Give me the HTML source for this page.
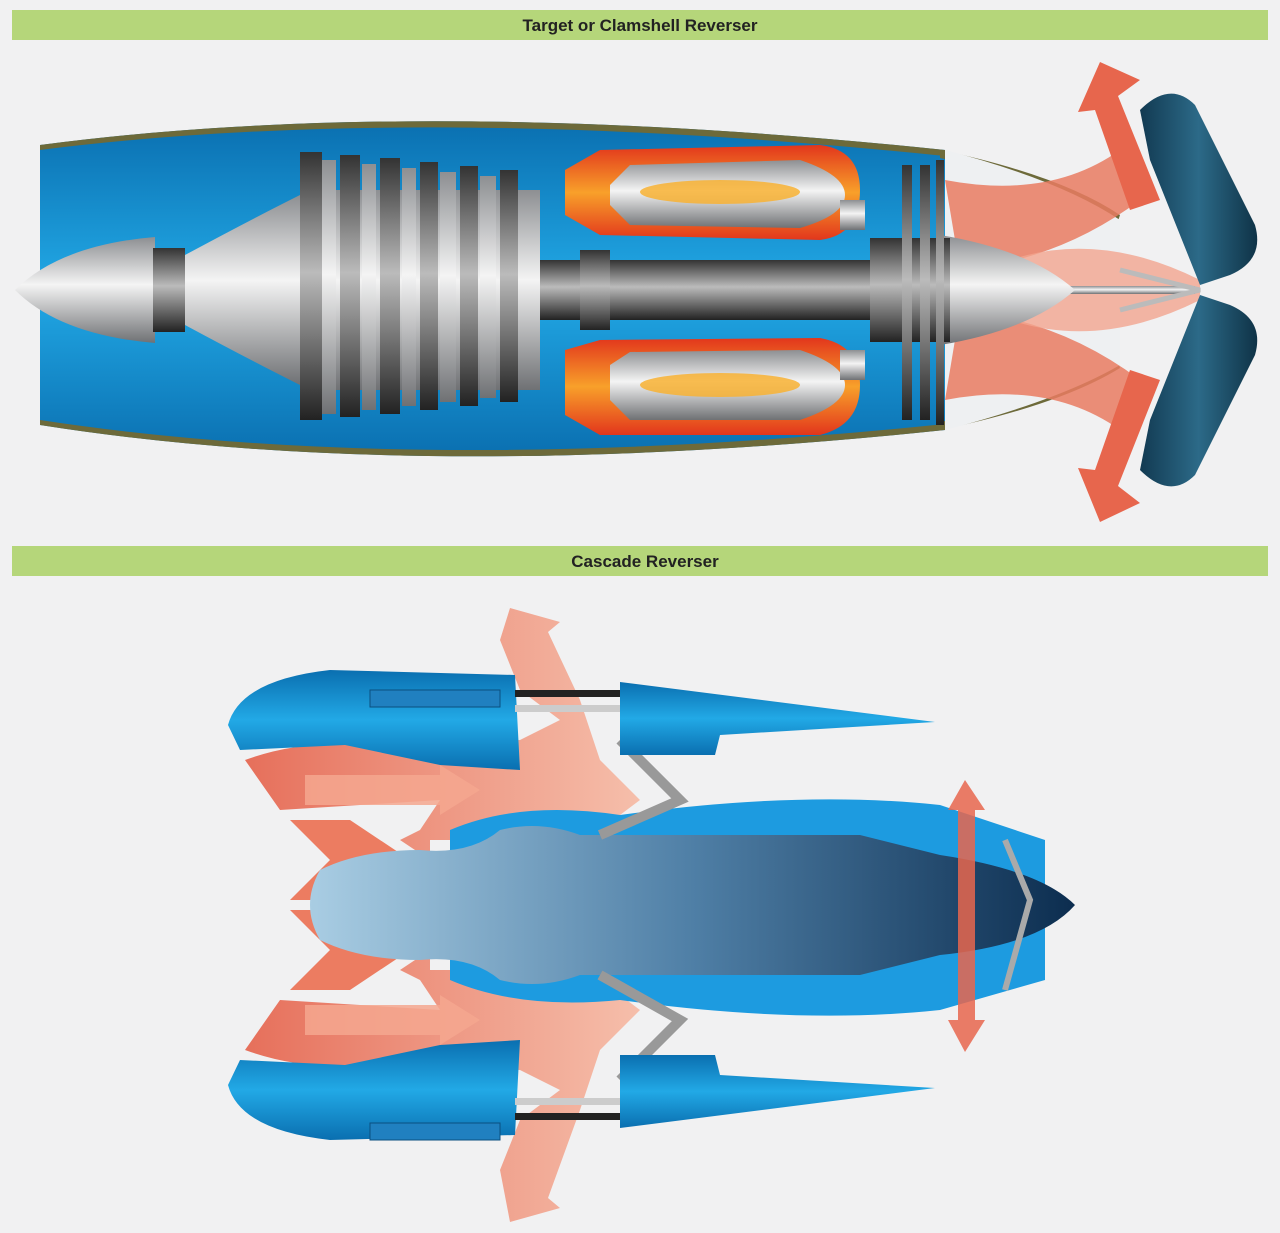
<!DOCTYPE html>
<html><head><meta charset="utf-8"><style>
html,body{margin:0;padding:0;background:#f1f1f2;}
svg{display:block}
text{font-family:"Liberation Sans",Arial,sans-serif;font-weight:bold;}
</style></head><body>
<svg width="1280" height="1233" viewBox="0 0 1280 1233" xmlns="http://www.w3.org/2000/svg">
<defs>
<linearGradient id="silver" x1="0" y1="0" x2="0" y2="1">
<stop offset="0" stop-color="#8d8f92"/><stop offset="0.45" stop-color="#f4f4f4"/><stop offset="1" stop-color="#6f7174"/></linearGradient>
<linearGradient id="dark" x1="0" y1="0" x2="0" y2="1">
<stop offset="0" stop-color="#333"/><stop offset="0.45" stop-color="#bbb"/><stop offset="1" stop-color="#222"/></linearGradient>
<linearGradient id="blueN" x1="0" y1="0" x2="0" y2="1">
<stop offset="0" stop-color="#0a6fb0"/><stop offset="0.5" stop-color="#22a9e6"/><stop offset="1" stop-color="#0a6fb0"/></linearGradient>
<linearGradient id="core" x1="0" y1="0" x2="1" y2="0">
<stop offset="0" stop-color="#a9cde3"/><stop offset="0.5" stop-color="#4f7fa6"/><stop offset="1" stop-color="#0c2d4f"/></linearGradient>
<linearGradient id="orange" x1="0" y1="0" x2="1" y2="0">
<stop offset="0" stop-color="#e5614a"/><stop offset="1" stop-color="#f6b9a3"/></linearGradient>
<linearGradient id="orangeV" x1="0" y1="1" x2="0" y2="0">
<stop offset="0" stop-color="#f7c3ad"/><stop offset="1" stop-color="#e65f45"/></linearGradient>
<linearGradient id="comb" x1="0" y1="0" x2="0" y2="1">
<stop offset="0" stop-color="#e2361c"/><stop offset="0.5" stop-color="#f8a02a"/><stop offset="1" stop-color="#e2361c"/></linearGradient>
<linearGradient id="clam" x1="0" y1="0" x2="1" y2="0">
<stop offset="0" stop-color="#123a52"/><stop offset="0.5" stop-color="#2c6a88"/><stop offset="1" stop-color="#0f3347"/></linearGradient>
</defs>

<!-- headers -->
<rect x="12" y="10" width="1256" height="30" fill="#b5d67a"/>
<text x="640" y="31" font-size="17" text-anchor="middle" fill="#222">Target or Clamshell Reverser</text>
<rect x="12" y="546" width="1256" height="30" fill="#b5d67a"/>
<text x="645" y="567" font-size="17" text-anchor="middle" fill="#222">Cascade Reverser</text>

<!-- ===== TOP ENGINE ===== -->
<path d="M40,145 Q420,95 945,150 L945,430 Q420,485 40,425 Z" fill="url(#blueN)"/>
<path d="M40,145 Q420,95 945,150 L945,156 Q420,102 40,150 Z" fill="#6d6a3a"/>
<path d="M40,425 Q420,485 945,430 L945,424 Q420,478 40,420 Z" fill="#6d6a3a"/>
<path d="M940,150 Q1060,175 1120,215 L1118,221 Q1060,183 940,158Z" fill="#6d6a3a"/>
<path d="M940,430 Q1060,405 1120,368 L1118,362 Q1060,398 940,422Z" fill="#6d6a3a"/>
<path d="M945,150 Q1060,180 1120,220 L1120,365 Q1060,400 945,430Z" fill="#eef0f2"/>
<!-- orange flows top -->
<path d="M945,180 Q1050,200 1120,150 L1140,200 Q1060,260 960,270Z" fill="#e97b62" opacity="0.85"/>
<path d="M945,400 Q1050,380 1120,430 L1140,380 Q1060,320 960,310Z" fill="#e97b62" opacity="0.85"/>
<path d="M1010,260 Q1100,230 1200,280 L1200,300 Q1100,350 1010,320Z" fill="#f3a58f" opacity="0.8"/>
<!-- arrows -->
<path d="M1130,210 L1095,110 L1078,112 L1100,62 L1140,80 L1118,96 L1160,200Z" fill="#e7664d"/>
<path d="M1130,370 L1095,470 L1078,468 L1100,522 L1140,503 L1118,486 L1160,380Z" fill="#e7664d"/>
<!-- clamshells -->
<path d="M1140,110 Q1170,80 1195,105 L1255,225 Q1265,260 1230,275 L1200,285 L1150,160 Z" fill="url(#clam)"/>
<path d="M1140,470 Q1170,500 1195,475 L1255,355 Q1265,320 1230,305 L1200,295 L1150,420 Z" fill="url(#clam)"/>
<!-- tail rod -->
<rect x="945" y="286" width="250" height="8" fill="url(#silver)"/>
<path d="M1120,270 L1200,290 L1120,310" stroke="#bbb" stroke-width="5" fill="none"/>
<!-- tail cone -->
<path d="M940,235 Q1030,250 1075,290 Q1030,330 940,345Z" fill="url(#silver)"/>
<!-- nose -->
<path d="M15,290 Q60,245 155,237 L155,343 Q60,335 15,290Z" fill="url(#silver)"/>
<rect x="153" y="248" width="32" height="84" fill="url(#dark)"/>
<path d="M185,255 Q250,220 300,195 L300,385 Q250,360 185,325Z" fill="url(#silver)"/>
<!-- compressor -->
<rect x="300" y="190" width="240" height="200" fill="url(#silver)"/>
<g fill="url(#dark)">
<rect x="300" y="152" width="22" height="268"/>
<rect x="340" y="155" width="20" height="262"/>
<rect x="380" y="158" width="20" height="256"/>
<rect x="420" y="162" width="18" height="248"/>
<rect x="460" y="166" width="18" height="240"/>
<rect x="500" y="170" width="18" height="232"/>
</g>
<g fill="url(#silver)">
<rect x="322" y="160" width="14" height="254"/>
<rect x="362" y="164" width="14" height="246"/>
<rect x="402" y="168" width="14" height="238"/>
<rect x="440" y="172" width="16" height="230"/>
<rect x="480" y="176" width="16" height="222"/>
</g>
<!-- shaft -->
<rect x="540" y="260" width="340" height="60" fill="url(#dark)"/>
<rect x="870" y="238" width="80" height="104" fill="url(#dark)"/>
<rect x="580" y="250" width="30" height="80" fill="url(#dark)"/>
<!-- combustors -->
<path d="M565,170 L600,150 L820,145 Q860,150 860,190 Q860,235 820,240 L600,235 L565,215Z" fill="url(#comb)"/>
<path d="M610,185 L630,165 L800,160 Q845,175 845,195 Q845,215 800,228 L630,225 L610,205Z" fill="url(#silver)"/>
<ellipse cx="720" cy="192" rx="80" ry="12" fill="#f8b232" opacity="0.85"/>
<path d="M565,350 L600,340 L820,338 Q860,345 860,385 Q860,425 820,435 L600,435 L565,415Z" fill="url(#comb)"/>
<path d="M610,365 L630,352 L800,350 Q845,365 845,385 Q845,405 800,420 L630,420 L610,400Z" fill="url(#silver)"/>
<ellipse cx="720" cy="385" rx="80" ry="12" fill="#f8b232" opacity="0.85"/>
<!-- turbine -->
<g fill="url(#dark)">
<rect x="902" y="165" width="10" height="255"/>
<rect x="920" y="165" width="10" height="255"/>
<rect x="936" y="160" width="8" height="265"/>
</g>
<rect x="840" y="200" width="25" height="30" fill="url(#silver)"/>
<rect x="840" y="350" width="25" height="30" fill="url(#silver)"/>

<!-- ===== BOTTOM ENGINE ===== -->
<!-- orange flows behind -->
<path d="M245,760 Q300,740 360,745 L520,740 L560,720 L520,690 L500,640 L510,608 L560,622 L548,632 L580,700 L600,760 L640,800 L600,830 L500,840 L430,840 L430,860 L400,840 L420,830 L440,800 L280,810 Z" fill="url(#orange)" opacity="0.9"/>
<path d="M245,1050 Q300,1070 360,1065 L520,1070 L560,1090 L520,1120 L500,1170 L510,1222 L560,1208 L548,1198 L580,1110 L600,1050 L640,1010 L600,980 L500,970 L430,970 L430,950 L400,970 L420,980 L440,1010 L280,1000 Z" fill="url(#orange)" opacity="0.9"/>
<path d="M290,820 L350,820 L410,860 L350,900 L290,900 L330,860Z" fill="#ec7c61"/>
<path d="M290,990 L350,990 L410,950 L350,910 L290,910 L330,950Z" fill="#ec7c61"/>
<path d="M305,775 L440,775 L440,765 L480,790 L440,815 L440,805 L305,805Z" fill="#f5a78f" opacity="0.85"/>
<path d="M305,1035 L440,1035 L440,1045 L480,1020 L440,995 L440,1005 L305,1005Z" fill="#f5a78f" opacity="0.85"/>
<!-- core body -->
<path d="M450,830 Q520,800 620,815 Q800,790 940,805 L1045,840 L1045,980 L940,1010 Q800,1025 620,1000 Q520,1010 450,980 Z" fill="#1d9be0"/>
<path d="M320,870 Q360,850 420,850 Q470,855 500,830 Q540,820 580,835 L860,835 L940,855 Q1040,870 1075,905 Q1040,945 940,955 L860,975 L580,975 Q540,990 500,980 Q470,955 420,960 Q360,960 320,940 Q300,905 320,870Z" fill="url(#core)"/>
<!-- struts / links -->
<path d="M600,835 L680,800 L640,760 L620,740" stroke="#999" stroke-width="10" fill="none"/>
<path d="M600,975 L680,1020 L640,1060 L620,1080" stroke="#999" stroke-width="10" fill="none"/>
<!-- cowls -->
<path d="M228,725 Q240,680 330,670 L515,675 L520,770 L440,765 L345,745 L240,750Z" fill="url(#blueN)"/>
<rect x="370" y="690" width="130" height="17" fill="#2080c0" stroke="#0a4f80"/>
<path d="M620,682 L935,722 L720,735 L715,755 L620,755Z" fill="url(#blueN)"/>
<rect x="515" y="690" width="105" height="7" fill="#222"/>
<rect x="515" y="705" width="105" height="7" fill="#ccc"/>
<path d="M228,1085 Q240,1130 330,1140 L515,1135 L520,1040 L440,1045 L345,1065 L240,1060Z" fill="url(#blueN)"/>
<rect x="370" y="1123" width="130" height="17" fill="#2080c0" stroke="#0a4f80"/>
<path d="M620,1128 L935,1088 L720,1075 L715,1055 L620,1055Z" fill="url(#blueN)"/>
<rect x="515" y="1113" width="105" height="7" fill="#222"/>
<rect x="515" y="1098" width="105" height="7" fill="#ccc"/>
<!-- tail orange arrow -->
<path d="M965,780 L985,810 L975,810 L975,1020 L985,1020 L965,1052 L948,1020 L958,1020 L958,810 L948,810Z" fill="#e7664d" opacity="0.85"/>
<path d="M1005,840 L1030,900 L1005,990" stroke="#aaa" stroke-width="6" fill="none"/>
</svg>
</body></html>
